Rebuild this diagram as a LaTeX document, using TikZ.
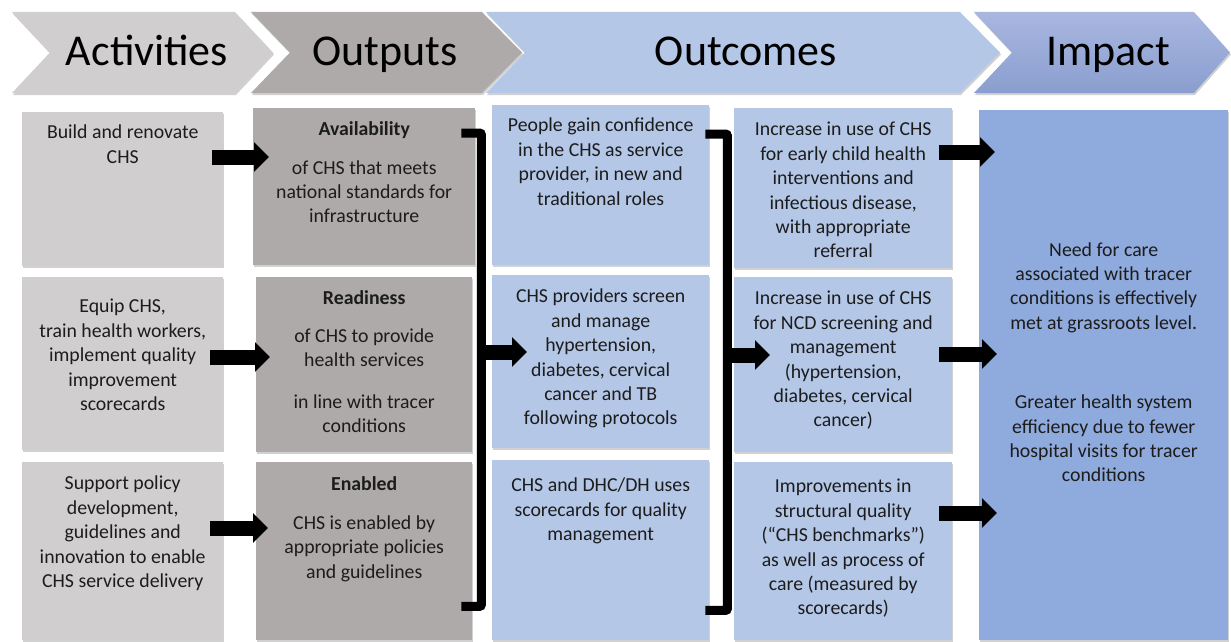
\documentclass[tikz,border=0pt]{standalone}
\usepackage{fontspec}
\setmainfont{Carlito}
\usetikzlibrary{positioning,arrows.meta,shadows}
\definecolor{actgray}{HTML}{D0CECE}
\definecolor{outgray}{HTML}{AEAAAA}
\definecolor{ocblue}{HTML}{B4C7E7}
\definecolor{impblue}{HTML}{8FAADC}
\definecolor{imptop}{HTML}{A9B7E0}
\definecolor{impbot}{HTML}{8A9ECF}
\definecolor{txtcol}{HTML}{1C1C1C}
\tikzset{
  box/.style={anchor=north west, inner sep=0pt,
    drop shadow={shadow xshift=1pt, shadow yshift=-2pt, opacity=.3, fill=black!60}},
  actbox/.style={box, fill=actgray},
  outbox/.style={box, fill=outgray},
  ocbox/.style={box, fill=ocblue},
  impbox/.style={box, fill=impblue},
  txt/.style={align=center, inner sep=0pt, text=txtcol,
    font=\fontsize{19.8}{24.4}\selectfont},
  head/.style={inner sep=0pt, anchor=base, font=\fontsize{44}{50}\selectfont},
  chev/.style={drop shadow={shadow xshift=1pt, shadow yshift=-2pt, opacity=.3, fill=black!60}},
  blk/.style={line width=15pt, black, -{Triangle[length=15pt,width=29pt]}},
  brack/.style={line width=9pt, black, rounded corners=2pt}
}
\begin{document}
\begin{tikzpicture}[x=1pt,y=-1pt]
\useasboundingbox (0,0) rectangle (1231,642);
% header
\fill[actgray, chev] (12,12) -- (235,12) -- (273,52.5) -- (235,93) -- (12,93) -- (50,52.5) -- cycle;
\fill[outgray, chev] (251,12) -- (482,12) -- (522,52.5) -- (482,93) -- (251,93) -- (290,52.5) -- cycle;
\fill[ocblue, chev] (486,12) -- (960,12) -- (1000,52.5) -- (960,93) -- (486,93) -- (525,52.5) -- cycle;
\shade[top color=imptop, bottom color=impbot, chev] (974,12) -- (1194,12) -- (1230,52.5) -- (1194,93) -- (974,93) -- (1012,52.5) -- cycle;
\node[head] (hact) at (147,66) {Activities};
\node[head] (hout) at (385,66) {Outputs};
\node[head] (hoc) at (746,66) {Outcomes};
\node[head] (himp) at (1108,66) {Impact};

% boxes
\node[actbox, minimum width=201pt, minimum height=154pt] (act1) at (22,112) {};
\node[actbox, minimum width=201pt, minimum height=173pt] (act2) at (22,277) {};
\node[actbox, minimum width=201pt, minimum height=178pt] (act3) at (22,462) {};
\node[outbox, minimum width=222pt, minimum height=157pt] (out1) at (253,108) {};
\node[outbox, minimum width=216pt, minimum height=175pt] (out2) at (256,277) {};
\node[outbox, minimum width=216pt, minimum height=178pt] (out3) at (256,462) {};
\node[ocbox, minimum width=217pt, minimum height=160pt] (oa1) at (492,105) {};
\node[ocbox, minimum width=217pt, minimum height=173pt] (oa2) at (492,275) {};
\node[ocbox, minimum width=217pt, minimum height=180pt] (oa3) at (492,460) {};
\node[ocbox, minimum width=218pt, minimum height=160pt] (ob1) at (734,108) {};
\node[ocbox, minimum width=218pt, minimum height=175pt] (ob2) at (734,277) {};
\node[ocbox, minimum width=218pt, minimum height=178pt] (ob3) at (734,462) {};
\node[impbox, minimum width=249pt, minimum height=530pt] (imp) at (979,110) {};

% texts
\node[txt, below=13pt of act1.north] (act1t) {Build and renovate\\CHS};
\node[txt, below=22pt of act2.north] (act2t) {Equip CHS,\\train health workers,\\implement quality\\improvement\\scorecards};
\node[txt, below=14pt of act3.north] (act3t) {Support policy\\development,\\guidelines and\\innovation to enable\\CHS service delivery};
\node[txt, below=13pt of out1.north] (out1t) {\textbf{Availability}\\[14.6pt]of CHS that meets\\national standards for\\infrastructure};
\node[txt, below=13pt of out2.north] (out2t) {\textbf{Readiness}\\[14pt]of CHS to provide\\health services\\[17pt]in line with tracer\\conditions};
\node[txt, below=14pt of out3.north] (out3t) {\textbf{Enabled}\\[15pt]CHS is enabled by\\appropriate policies\\and guidelines};
\node[txt, below=13pt of oa1.north] (oa1t) {People gain confidence\\in the CHS as service\\provider, in new and\\traditional roles};
\node[txt, below=14pt of oa2.north] (oa2t) {CHS providers screen\\and manage\\hypertension,\\diabetes,  cervical\\cancer and TB\\following protocols};
\node[txt, below=18pt of oa3.north] (oa3t) {CHS and DHC/DH uses\\scorecards for quality\\management};
\node[txt, below=14pt of ob1.north] (ob1t) {Increase in use of CHS\\for early child health\\interventions  and\\infectious disease,\\with appropriate\\referral};
\node[txt, below=14pt of ob2.north] (ob2t) {Increase in use of CHS\\for NCD screening  and\\management\\(hypertension,\\diabetes,  cervical\\cancer)};
\node[txt, below=17pt of ob3.north] (ob3t) {Improvements  in\\structural  quality\\(“CHS benchmarks”)\\as well as process of\\care (measured  by\\scorecards)};
\node[txt, yshift=13pt] (impt) at (imp.center) {Need for care\\associated  with tracer\\conditions  is effectively\\met at grassroots level.\\[55pt]Greater health system\\efficiency due to fewer\\hospital visits for tracer\\conditions};

% arrows activities -> outputs
\draw[blk] ([xshift=-11pt]act1.east |- 0,157) -- ([xshift=16pt]out1.west |- 0,157);
\draw[blk] ([xshift=-13pt]act2.east |- 0,357) -- ([xshift=14pt]out2.west |- 0,357);
\draw[blk] ([xshift=-13pt]act3.east |- 0,528) -- ([xshift=12pt]out3.west |- 0,528);

% brackets
\draw[brack] ([shift={(-14pt,-25pt)}]out1.north east) -- ++(20,0) |- ([shift={(-11pt,34pt)}]out3.south east);
\draw[blk] ([xshift=-11pt]oa2.west |- 0,352) -- ([xshift=35pt]oa2.west |- 0,352);
\draw[brack] ([shift={(-4pt,-29pt)}]oa1.north east) -- ++(22,0) |- ([shift={(-4pt,30pt)}]oa3.south east);
\draw[blk] ([xshift=-7pt]ob2.west |- 0,355) -- ([xshift=36pt]ob2.west |- 0,355);

% arrows outcomes -> impact
\draw[blk] ([xshift=-13pt]ob1.east |- 0,152) -- ([xshift=16pt]imp.west |- 0,152);
\draw[blk] ([xshift=-13pt]ob2.east |- 0,354) -- ([xshift=18pt]imp.west |- 0,354);
\draw[blk] ([xshift=-13pt]ob3.east |- 0,513) -- ([xshift=18pt]imp.west |- 0,513);
\end{tikzpicture}
\end{document}
